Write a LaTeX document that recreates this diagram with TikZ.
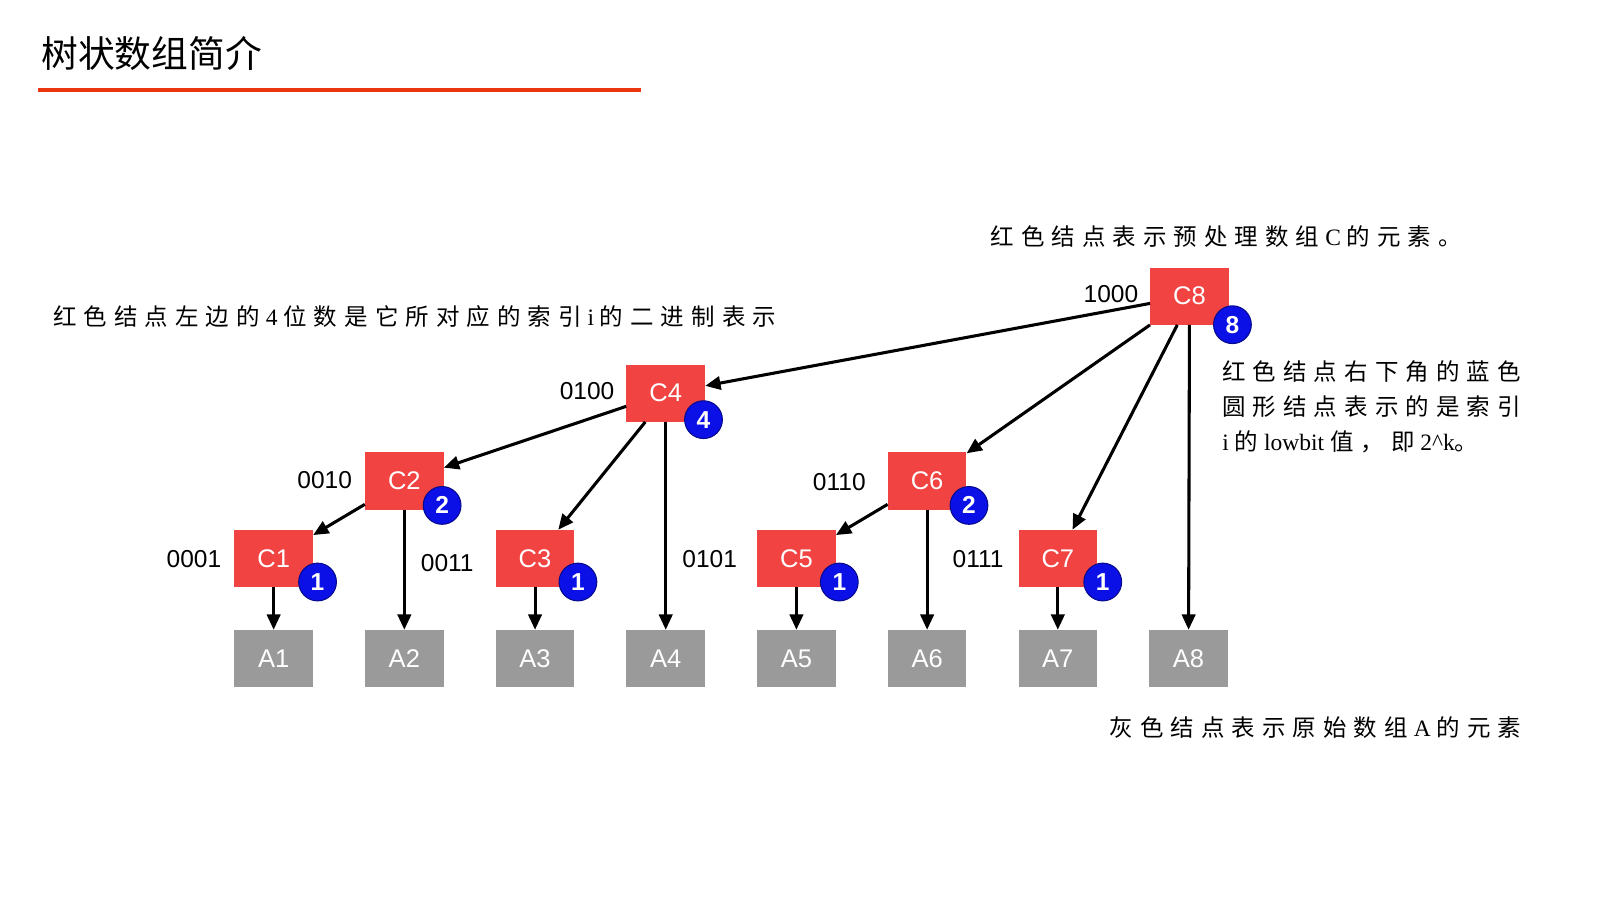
\documentclass[tikz,border=0pt]{standalone}
\usepackage{fontspec}
\setmainfont{Liberation Serif}
\setsansfont{Liberation Sans}
\newfontfamily\cjk[LetterSpace=30]{Noto Sans CJK SC}
\newfontfamily\cjktitle{Noto Sans CJK SC}
\usetikzlibrary{arrows.meta}
\definecolor{cred}{HTML}{F24343}
\definecolor{cgray}{HTML}{9A9A9A}
\definecolor{cblue}{HTML}{0A10E6}
\definecolor{tline}{HTML}{EA3510}
\begin{document}
\begin{tikzpicture}[x=1pt,y=-1pt,
  cbox/.style={fill=cred,minimum width=77pt,minimum height=56pt,inner sep=0pt,text=white,font=\sffamily\fontsize{25}{25}\selectfont},
  abox/.style={fill=cgray,minimum width=77pt,minimum height=56pt,inner sep=0pt,text=white,font=\sffamily\fontsize{25}{25}\selectfont},
  bc/.style={circle,fill=cblue,draw=cblue!60!black,line width=1pt,minimum size=37pt,inner sep=0pt,text=white,font=\sffamily\bfseries\fontsize{24}{24}\selectfont},
  bin/.style={font=\sffamily\fontsize{24}{24}\selectfont},
  note/.style={font=\fontsize{23}{27}\selectfont,inner sep=0pt},
  e/.style={line width=3pt,-{Triangle[length=15pt,width=13pt]}}]
\useasboundingbox (0,0) rectangle (1567,881);
\node[anchor=west,font=\cjktitle\fontsize{36}{36}\selectfont] (title) at (37,52) {树状数组简介};
\coordinate (l1) at (37,88); \coordinate (l2) at (628,88);
\draw[tline,line width=3.5pt] (l1) -- (l2);
% C nodes
\node[cbox] (C8) at (1165,290) {C8};
\node[cbox] (C4) at (652,385) {C4};
\node[cbox] (C2) at (396,471) {C2};
\node[cbox] (C6) at (908,471) {C6};
\node[cbox] (C1) at (268,547) {C1};
\node[cbox] (C3) at (524,547) {C3};
\node[cbox] (C5) at (780,547) {C5};
\node[cbox] (C7) at (1036,547) {C7};
\foreach \i/\x in {1/268,2/396,3/524,4/652,5/780,6/908,7/1036,8/1164}
  \node[abox] (A\i) at (\x,645) {A\i};
% edges
\draw[e] (C8) -- (C4);
\draw[e] (C8.south west) -- (C6);
\draw[e] ([xshift=-12pt]C8.south) -- (C7);
\draw[e] (C8) -- (A8);
\draw[e] (C4) -- (C2);
\draw[e] ([xshift=-20pt]C4.south) -- (C3);
\draw[e] (C4) -- (A4);
\draw[e] (C2) -- (C1);
\draw[e] (C2) -- (A2);
\draw[e] (C6) -- (C5);
\draw[e] (C6) -- (A6);
\draw[e] (C1) -- (A1);
\draw[e] (C3) -- (A3);
\draw[e] (C5) -- (A5);
\draw[e] (C7) -- (A7);
% circles
\node[bc] (b8) at (1207,318) {8};
\node[bc] (b4) at (689,411) {4};
\node[bc] (b2) at (433,495) {2};
\node[bc] (b6) at (949,495) {2};
\node[bc] (b1) at (311,570) {1};
\node[bc] (b3) at (566,570) {1};
\node[bc] (b5) at (822,570) {1};
\node[bc] (b7) at (1080,570) {1};
% binary labels
\node[bin] (n8) at (1088,288) {1000};
\node[bin] (n4) at (575,383) {0100};
\node[bin] (n2) at (318,470) {0010};
\node[bin] (n6) at (822,472) {0110};
\node[bin] (n1) at (190,548) {0001};
\node[bin] (n3) at (438,551) {0011};
\node[bin] (n5) at (695,548) {0101};
\node[bin] (n7) at (958,548) {0111};
% notes
\node[note,anchor=west] (t1) at (970,232) {{\cjk 红色结点表示预处理数组} C {\cjk 的元素。}};
\node[note,anchor=west] (t2) at (52,310) {{\cjk 红色结点左边的} 4 {\cjk 位数是它所对应的索引} i {\cjk 的二进制表示}};
\node[note,anchor=west] (t3a) at (1197,364) {\cjk 红色结点右下角的蓝色};
\node[note,anchor=west] (t3b) at (1197,398) {\cjk 圆形结点表示的是索引};
\node[note,anchor=west] (t3c) at (1197,433) {i {\cjk 的} lowbit {\cjk 值，即} 2\^{}k{\cjk 。}};
\node[note,anchor=east] (t4) at (1490,713) {{\cjk 灰色结点表示原始数组} A {\cjk 的元素}};
\end{tikzpicture}
\end{document}
